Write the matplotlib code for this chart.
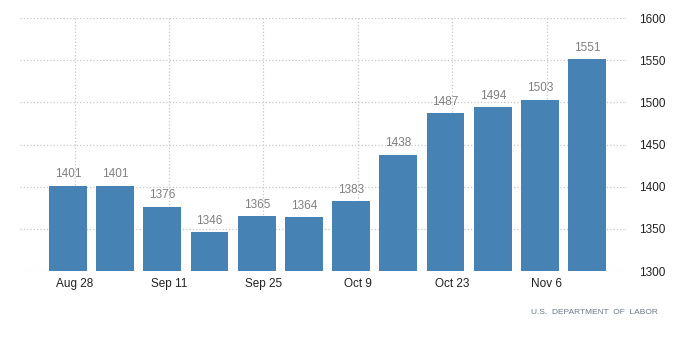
import matplotlib
matplotlib.use("Agg")
import matplotlib.pyplot as plt
import matplotlib.dates as mdates
from datetime import datetime

dates = ["2016-08-27", "2016-09-03", "2016-09-10", "2016-09-17", "2016-09-24", "2016-10-01",
         "2016-10-08", "2016-10-15", "2016-10-22", "2016-10-29", "2016-11-05", "2016-11-12"]
values = [1401, 1401, 1376, 1346, 1365, 1364, 1383, 1438, 1487, 1494, 1503, 1551]
tick_dates = ["2016-08-28", "2016-09-11", "2016-09-25", "2016-10-09", "2016-10-23", "2016-11-06"]
tick_labels = ["Aug 28", "Sep 11", "Sep 25", "Oct 9", "Oct 23", "Nov 6"]
y_ticks = [1300, 1350, 1400, 1450, 1500, 1550, 1600]
source = "U.S.  DEPARTMENT  OF  LABOR"

plt.rcParams['font.family'] = ['Liberation Sans', 'DejaVu Sans']
fig = plt.figure(figsize=(7.0, 3.63), dpi=100)
ax = fig.add_axes([0.0286, 0.2534, 0.8671, 0.6966])

x = mdates.date2num([datetime.strptime(d, "%Y-%m-%d") for d in dates])
xt = mdates.date2num([datetime.strptime(d, "%Y-%m-%d") for d in tick_dates])

ax.bar(x, [v - 1300 for v in values], bottom=1300, width=5.6, color='#4682b4', zorder=3)
for xi, v in zip(x, values):
    ax.annotate(str(v), (xi, v), xytext=(0, 4), textcoords='offset points',
                ha='center', va='bottom', fontsize=8.5, color='#808080')

ax.set_ylim(1300, 1600)
ax.set_xlim(x[0] - 7.1, x[-1] + 5.9)
ax.set_yticks(y_ticks)
ax.set_xticks(xt)
ax.set_xticklabels(tick_labels)
ax.yaxis.tick_right()
ax.tick_params(axis='both', length=0, labelsize=8.5, colors='#222222')
ax.tick_params(axis='x', pad=5)
ax.tick_params(axis='y', pad=9)
ax.grid(True, linestyle=':', color='#c8c8c8', linewidth=0.9, zorder=0)
for s in ax.spines.values():
    s.set_visible(False)

fig.text(0.94, 0.14, source, ha='right', va='center', fontsize=6, color='#6a7a8a')

fig.savefig("out.png", dpi=100, facecolor='white')
